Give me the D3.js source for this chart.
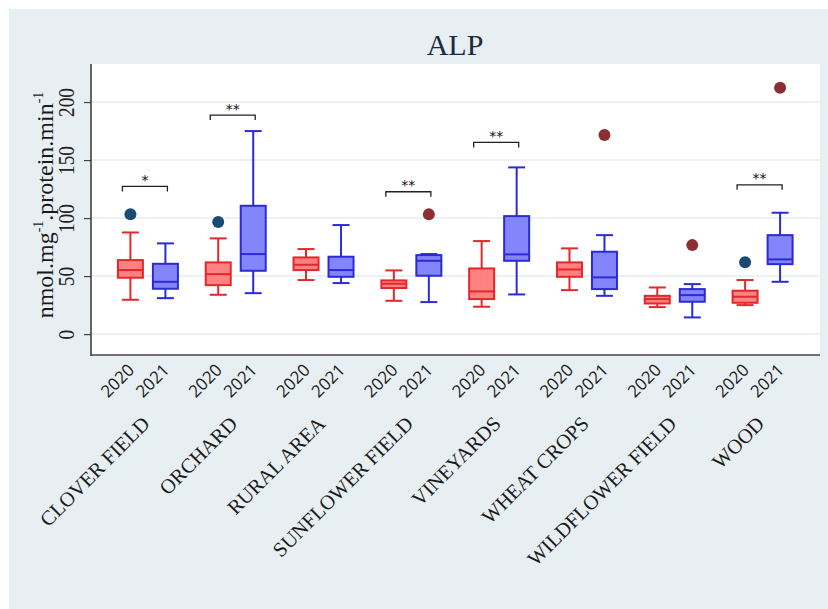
<!DOCTYPE html>
<html><head><meta charset="utf-8">
<script src="https://cdn.jsdelivr.net/npm/d3@7"></script>
<style>body{margin:0;background:#fff} svg{display:block}</style>
</head><body>
<svg id="c" width="828" height="609"></svg>
<script>
const categories=["CLOVER FIELD","ORCHARD","RURAL AREA","SUNFLOWER FIELD","VINEYARDS","WHEAT CROPS","WILDFLOWER FIELD","WOOD"];
const years=["2020","2021"];
const low2020 =[29.6,33.9,46.6,28.7,23.6,37.9,23.3,25.0];
const q1_2020 =[48.6,42.2,55.2,39.7,30.2,49.4,26.4,27.0];
const med2020 =[55.2,51.7,59.8,43.4,36.8,55.7,30.2,32.2];
const q3_2020 =[63.8,61.8,66.1,46.3,56.6,61.8,33.0,37.4];
const high2020=[87.6,82.5,73.3,54.9,80.2,73.9,40.2,46.6];
const low2021 =[31.0,35.3,44.0,27.6,34.2,33.0,14.4,45.1];
const q1_2021 =[39.1,54.6,49.4,50.3,63.2,38.8,27.9,60.3];
const med2021 =[45.1,69.0,55.2,63.2,68.7,48.9,33.6,64.4];
const q3_2021 =[60.6,110.6,66.7,68.1,101.7,71.0,38.8,85.3];
const high2021=[78.2,175.0,94.0,69.0,143.7,85.3,43.1,104.6];
const outliers2020=[103.4,96.6,null,null,null,null,null,62.0];
const outliers2021=[null,null,null,103.2,null,171.6,76.7,212.3];
const sigLabels=["*","**","","**","**","","","**"];
const sigLevel=[127.3,188.8,null,122.7,165.2,null,null,128.7];
const yTicks=[0,50,100,150,200];
const titleText="ALP";

const stats={
  "2020":{low:low2020,q1:q1_2020,med:med2020,q3:q3_2020,high:high2020,out:outliers2020},
  "2021":{low:low2021,q1:q1_2021,med:med2021,q3:q3_2021,high:high2021,out:outliers2021}
};
const style={
  "2020":{fill:"#ff8282",stroke:"#e3282b",out:"#1b4a72"},
  "2021":{fill:"#8585fb",stroke:"#2a2bd6",out:"#8b2f35"}
};

const svg=d3.select("#c");
const P={l:91,r:820,t:64,b:355};

svg.append("rect").attr("x",9).attr("y",9).attr("width",819).attr("height",600).attr("fill","#e8eff2");
svg.append("rect").attr("x",P.l).attr("y",P.t).attr("width",P.r-P.l).attr("height",P.b-P.t).attr("fill","#ffffff");

const y=d3.scaleLinear().domain([-18,232.8]).range([P.b,P.t]);
const x0=d3.scaleBand().domain(categories).range([104,806.5]).padding(0);
const bw=x0.bandwidth();
const x1=d3.scalePoint().domain(years).range([bw/2-17.5,bw/2+17.5]);
const xc=(c,yr)=>x0(c)+x1(yr);

// grid
svg.append("g").selectAll("line").data(yTicks).join("line")
  .attr("x1",P.l).attr("x2",P.r).attr("y1",d=>y(d)).attr("y2",d=>y(d))
  .attr("stroke","#e4ebee").attr("stroke-width",1.5);

// y axis
const ya=svg.append("g").attr("transform",`translate(${P.l},0)`)
  .call(d3.axisLeft(y).tickValues(yTicks).tickSize(7).tickSizeOuter(0).tickFormat(d3.format("d")));
ya.select(".domain").remove();
ya.selectAll(".tick line").attr("stroke","#444").attr("stroke-width",1.2);
ya.selectAll(".tick text").attr("x",null).attr("dy",null)
  .attr("transform","translate(-17,0) rotate(-90) scale(0.8,1)")
  .attr("text-anchor","middle").attr("font-family","Liberation Serif, serif")
  .attr("font-size",24).attr("fill","#222");

// frame lines
svg.append("line").attr("x1",P.l).attr("x2",P.l).attr("y1",P.t).attr("y2",P.b+1).attr("stroke","#333").attr("stroke-width",1.5);
svg.append("line").attr("x1",P.l).attr("x2",P.r).attr("y1",P.b).attr("y2",P.b).attr("stroke","#444").attr("stroke-width",1.5);

// boxes
const cap=8.5, hw=12.5;
years.forEach(yr=>{
  const s=stats[yr], st=style[yr];
  const g=svg.append("g");
  categories.forEach((c,i)=>{
    const cx=xc(c,yr);
    const gg=g.append("g").attr("stroke",st.stroke).attr("stroke-width",2).attr("fill","none");
    gg.append("line").attr("x1",cx).attr("x2",cx).attr("y1",y(s.q3[i])).attr("y2",y(s.high[i]));
    gg.append("line").attr("x1",cx).attr("x2",cx).attr("y1",y(s.q1[i])).attr("y2",y(s.low[i]));
    gg.append("line").attr("x1",cx-cap).attr("x2",cx+cap).attr("y1",y(s.high[i])).attr("y2",y(s.high[i]));
    gg.append("line").attr("x1",cx-cap).attr("x2",cx+cap).attr("y1",y(s.low[i])).attr("y2",y(s.low[i]));
    gg.append("rect").attr("x",cx-hw).attr("width",2*hw)
      .attr("y",y(s.q3[i])).attr("height",y(s.q1[i])-y(s.q3[i])).attr("fill",st.fill);
    gg.append("line").attr("x1",cx-hw).attr("x2",cx+hw).attr("y1",y(s.med[i])).attr("y2",y(s.med[i]));
    if(s.out[i]!=null){
      g.append("circle").attr("cx",cx).attr("cy",y(s.out[i])).attr("r",6).attr("fill",st.out);
    }
  });
});

// significance brackets
categories.forEach((c,i)=>{
  if(sigLevel[i]==null) return;
  const xa=xc(c,"2020")-8, xb=xc(c,"2021")+2, yy=y(sigLevel[i]);
  svg.append("path").attr("d",`M${xa},${yy+5}V${yy}H${xb}V${yy+5}`)
    .attr("fill","none").attr("stroke","#222").attr("stroke-width",1.3);
  svg.append("text").attr("x",(xa+xb)/2).attr("y",yy-1.5).attr("text-anchor","middle")
    .attr("font-family","DejaVu Sans, sans-serif").attr("font-size",14).attr("fill","#111").text(sigLabels[i]);
});

// year labels
categories.forEach(c=>{
  years.forEach(yr=>{
    const cx=xc(c,yr);
    svg.append("text").attr("transform",`translate(${cx+5},371) rotate(-45)`)
      .attr("text-anchor","end").attr("font-family","Open Sans, sans-serif")
      .attr("font-size",17).attr("fill","#1a1a1a").text(yr);
  });
});

// category labels
const xa=svg.append("g").attr("transform",`translate(0,${P.b})`)
  .call(d3.axisBottom(x0).tickSize(0));
xa.select(".domain").remove();
xa.selectAll(".tick text").attr("y",null).attr("dy",null)
  .attr("transform","translate(3,70) rotate(-45)")
  .attr("text-anchor","end").attr("font-family","Liberation Serif, serif")
  .attr("font-size",20.5).attr("fill","#1a1a1a");

// y label
const yl=svg.append("text").attr("transform","translate(53,205) rotate(-90)")
  .attr("text-anchor","middle").attr("font-family","Liberation Serif, serif")
  .attr("font-size",24).attr("fill","#1a1a1a");
yl.append("tspan").text("nmol.mg");
yl.append("tspan").attr("dy",-10).attr("font-size",14).text("-1");
yl.append("tspan").attr("dy",10).text(".protein.min");
yl.append("tspan").attr("dy",-10).attr("font-size",14).text("-1");

// title
svg.append("text").attr("x",455).attr("y",55).attr("text-anchor","middle")
  .attr("font-family","Liberation Serif, serif").attr("font-size",30).attr("fill","#1e2a44").text(titleText);
</script>
</body></html>
